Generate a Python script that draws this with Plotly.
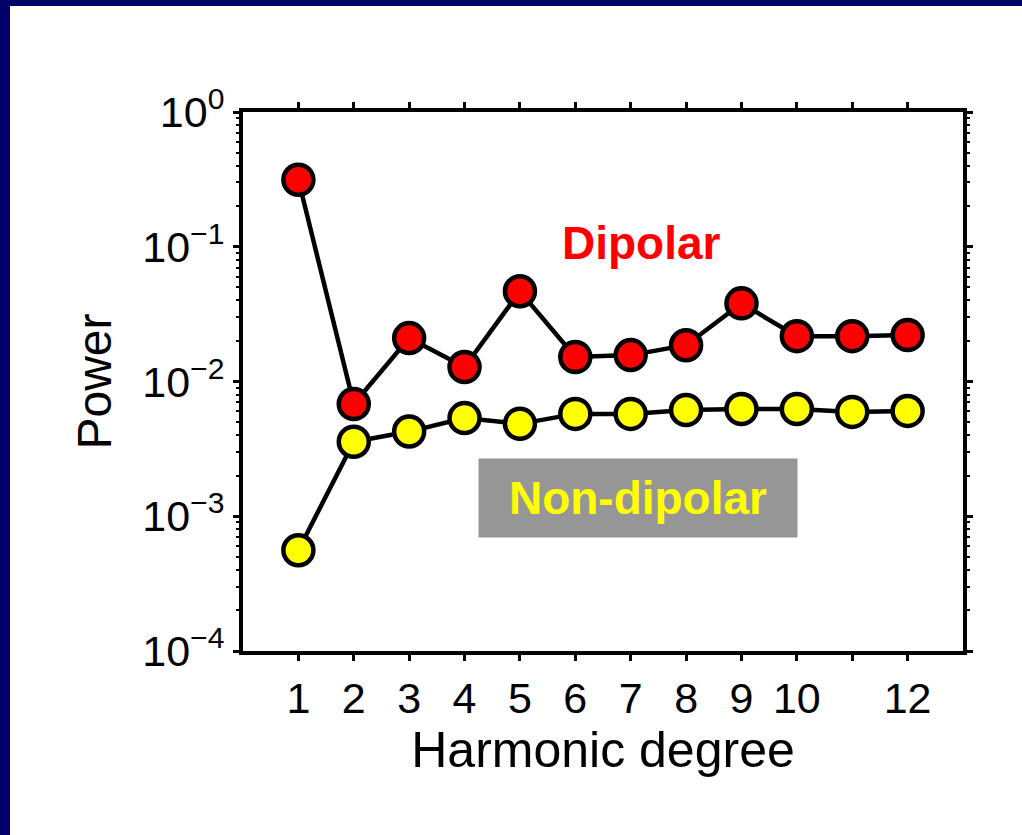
import plotly.graph_objects as go

degree = [1, 2, 3, 4, 5, 6, 7, 8, 9, 10, 11, 12]
dipolar = [0.314, 0.0068, 0.021, 0.0128, 0.0467, 0.0152, 0.0157, 0.0186, 0.038, 0.0217, 0.0217, 0.0221]
non_dipolar = [5.6e-4, 3.57e-3, 4.25e-3, 5.35e-3, 4.85e-3, 5.75e-3, 5.75e-3, 6.15e-3, 6.25e-3, 6.25e-3, 5.95e-3, 6.05e-3]

x_tickvals = [1, 2, 3, 4, 5, 6, 7, 8, 9, 10, 11, 12]
x_ticktext = ["1", "2", "3", "4", "5", "6", "7", "8", "9", "10", "", "12"]
y_tickvals = [1e-4, 1e-3, 1e-2, 1e-1, 1e0]
y_ticktext = ["10<sup>\u22124</sup>", "10<sup>\u22123</sup>", "10<sup>\u22122</sup>",
              "10<sup>\u22121</sup>", "10<sup>0</sup>"]

FONT = "Liberation Sans, Arial, sans-serif"
NAVY = "#000068"

fig = go.Figure()
fig.add_trace(go.Scatter(
    x=degree, y=dipolar, mode="lines+markers",
    line=dict(color="black", width=4.5),
    marker=dict(size=30, color="#ff0000", line=dict(color="black", width=4.5)),
    showlegend=False, cliponaxis=False))
fig.add_trace(go.Scatter(
    x=degree, y=non_dipolar, mode="lines+markers",
    line=dict(color="black", width=4.5),
    marker=dict(size=30, color="#ffff00", line=dict(color="black", width=4.5)),
    showlegend=False, cliponaxis=False))

fig.update_layout(
    width=1022, height=835,
    margin=dict(l=243, r=59, t=112, b=184),
    paper_bgcolor="white", plot_bgcolor="white",
    font=dict(family=FONT, color="black"),
    xaxis=dict(
        range=[0, 13], tickvals=x_tickvals, ticktext=x_ticktext,
        showgrid=False, zeroline=False,
        showline=True, linecolor="black", linewidth=4, mirror="allticks",
        ticks="outside", ticklen=6, tickwidth=3, tickcolor="black",
        tickfont=dict(size=43, family=FONT),
        title=dict(text="Harmonic degree", font=dict(size=50, family=FONT), standoff=0),
    ),
    yaxis=dict(
        type="log", range=[-4, 0], tickvals=y_tickvals, ticktext=y_ticktext,
        showgrid=False, zeroline=False,
        showline=True, linecolor="black", linewidth=4, mirror="allticks",
        ticks="outside", ticklen=6, tickwidth=3, tickcolor="black",
        tickfont=dict(size=43, family=FONT),
        minor=dict(ticks="outside", ticklen=3, tickwidth=1.5, tickcolor="black", dtick="D1", showgrid=False),
        title=dict(text="Power", font=dict(size=48, family=FONT), standoff=16),
    ),
    annotations=[
        dict(x=7.2, y=-0.971, xref="x", yref="y", text="<b>Dipolar</b>", showarrow=False,
             font=dict(size=46, color="#ff0000", family=FONT)),
        dict(x=7.13, y=-2.866, xref="x", yref="y", text="<b>Non-dipolar</b>", showarrow=False,
             font=dict(size=46, color="#ffff00", family=FONT),
             bgcolor="#969696", width=318, height=78, borderpad=0),
    ],
    shapes=[
        dict(type="rect", xref="paper", yref="paper", x0=-243/720, x1=-233/720,
             y0=-184/539, y1=(539+112)/539, fillcolor=NAVY, line=dict(width=0), layer="below"),
        dict(type="rect", xref="paper", yref="paper", x0=-243/720, x1=(720+59)/720,
             y0=(539+106)/539, y1=(539+112)/539, fillcolor=NAVY, line=dict(width=0), layer="below"),
    ],
)

fig.write_html("out.html")
